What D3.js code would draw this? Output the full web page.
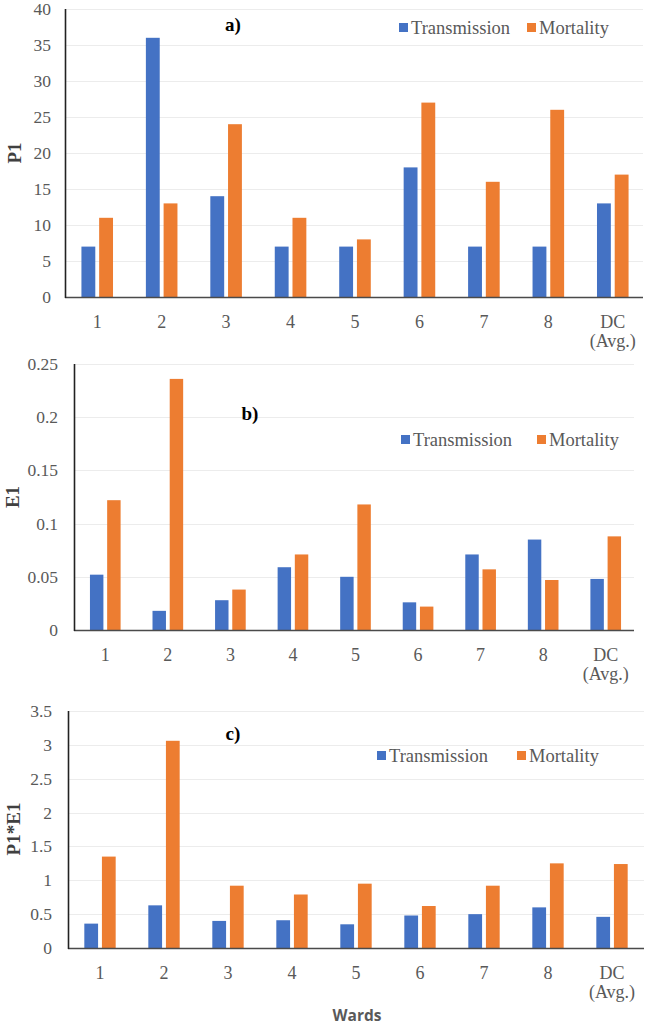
<!DOCTYPE html>
<html>
<head>
<meta charset="utf-8">
<script src="https://cdn.jsdelivr.net/npm/d3@7"></script>
<style>
  html, body { margin: 0; padding: 0; background: #fff; }
  svg { display: block; }
</style>
</head>
<body>
<svg id="chart" width="645" height="1029"></svg>
<script>
// ---- data ----
const categories = ["1", "2", "3", "4", "5", "6", "7", "8", "DC\n(Avg.)"];
const seriesNames = ["Transmission", "Mortality"];

const p1Transmission = [7, 36, 14, 7, 7, 18, 7, 7, 13];
const p1Mortality    = [11, 13, 24, 11, 8, 27, 16, 26, 17];

const e1Transmission = [0.052, 0.018, 0.028, 0.059, 0.050, 0.026, 0.071, 0.085, 0.048];
const e1Mortality    = [0.122, 0.236, 0.038, 0.071, 0.118, 0.022, 0.057, 0.047, 0.088];

const p1e1Transmission = [0.36, 0.63, 0.40, 0.41, 0.35, 0.48, 0.50, 0.60, 0.46];
const p1e1Mortality    = [1.35, 3.06, 0.92, 0.79, 0.95, 0.62, 0.92, 1.25, 1.24];

const ticksA = [0, 5, 10, 15, 20, 25, 30, 35, 40];
const ticksB = [0, 0.05, 0.1, 0.15, 0.2, 0.25];
const ticksC = [0, 0.5, 1, 1.5, 2, 2.5, 3, 3.5];

const panelLabels = ["a)", "b)", "c)"];
const yTitles = ["P1", "E1", "P1*E1"];
const xTitle = "Wards";

// ---- styling / layout ----
const colors = ["#4472C4", "#ED7D31"];
const serif = "'Liberation Serif', 'Times New Roman', serif";
const tickColor = "#595959";

const svg = d3.select("#chart");

const panels = [
  { t: [p1Transmission, p1Mortality], ticks: ticksA, max: 40,
    x0: 65, x1: 645, axisEnd: 643, yTop: 9, yZero: 297, tickRight: 51,
    label: panelLabels[0], labelX: 233, labelY: 31,
    title: yTitles[0], titleX: 14, titleY: 153,
    legX: 399, legY: 28, legGap: 128 },
  { t: [e1Transmission, e1Mortality], ticks: ticksB, max: 0.25,
    x0: 74, x1: 637, axisEnd: 634, yTop: 364, yZero: 630, tickRight: 58,
    label: panelLabels[1], labelX: 250, labelY: 420,
    title: yTitles[1], titleX: 12, titleY: 497,
    legX: 401, legY: 440, legGap: 136 },
  { t: [p1e1Transmission, p1e1Mortality], ticks: ticksC, max: 3.5,
    x0: 68, x1: 644, axisEnd: 644, yTop: 711, yZero: 948, tickRight: 52,
    label: panelLabels[2], labelX: 233, labelY: 740,
    title: yTitles[2], titleX: 13, titleY: 829,
    legX: 377, legY: 756, legGap: 140 }
];

panels.forEach(p => {
  const g = svg.append("g");
  const x = d3.scaleBand().domain(categories).range([p.x0, p.x1]);
  const y = d3.scaleLinear().domain([0, p.max]).range([p.yZero, p.yTop]);
  const bw = x.bandwidth();
  const barW = bw * 0.215;
  const gap = bw * 0.06;
  const xs = d3.scaleOrdinal().domain(seriesNames)
    .range([bw / 2 - gap / 2 - barW, bw / 2 + gap / 2]);

  // gridlines
  g.append("g").selectAll("line").data(p.ticks.slice(1)).join("line")
    .attr("x1", p.x0 + 1).attr("x2", p.axisEnd)
    .attr("y1", d => Math.round(y(d)) + 0.5).attr("y2", d => Math.round(y(d)) + 0.5)
    .attr("stroke", "#ececec").attr("stroke-width", 1);

  // y tick labels
  g.append("g").selectAll("text").data(p.ticks).join("text")
    .attr("x", p.tickRight).attr("y", d => y(d))
    .attr("dy", "0.34em")
    .attr("text-anchor", "end")
    .attr("font-family", serif).attr("font-size", 17.5)
    .attr("fill", tickColor)
    .text(d => d3.format("~g")(d));

  // bars
  seriesNames.forEach((s, si) => {
    g.append("g").selectAll("rect").data(p.t[si]).join("rect")
      .attr("x", (d, i) => x(categories[i]) + xs(s))
      .attr("width", barW)
      .attr("y", d => y(d))
      .attr("height", d => y(0) - y(d))
      .attr("fill", colors[si]);
  });

  // axes lines
  g.append("line")
    .attr("x1", p.x0).attr("x2", p.axisEnd)
    .attr("y1", p.yZero + 0.5).attr("y2", p.yZero + 0.5)
    .attr("stroke", "#4a4a4a").attr("stroke-width", 1.6);
  g.append("line")
    .attr("x1", p.x0 + 0.5).attr("x2", p.x0 + 0.5)
    .attr("y1", p.yTop).attr("y2", p.yZero + 1)
    .attr("stroke", "#222").attr("stroke-width", 1.6);

  // x tick labels
  const xl = g.append("g").selectAll("text").data(categories).join("text")
    .attr("text-anchor", "middle")
    .attr("font-family", serif).attr("font-size", 18)
    .attr("fill", tickColor)
    .attr("transform", d => `translate(${x(d) + bw / 2},${p.yZero + 31})`);
  xl.each(function(d) {
    const lines = d.split("\n");
    d3.select(this).selectAll("tspan").data(lines).join("tspan")
      .attr("x", 0).attr("dy", (l, i) => i === 0 ? 0 : 19).text(l => l);
  });

  // panel label
  g.append("text")
    .attr("x", p.labelX).attr("y", p.labelY)
    .attr("text-anchor", "middle")
    .attr("font-family", serif).attr("font-size", 19).attr("font-weight", "bold")
    .attr("fill", "#000").text(p.label);

  // y title
  g.append("text")
    .attr("transform", `translate(${p.titleX},${p.titleY}) rotate(-90)`)
    .attr("text-anchor", "middle").attr("dy", "0.35em")
    .attr("font-family", serif).attr("font-size", 19).attr("font-weight", "bold")
    .attr("fill", "#404040").text(p.title);

  // legend
  const leg = g.append("g");
  seriesNames.forEach((s, si) => {
    const lx = p.legX + si * p.legGap;
    leg.append("rect")
      .attr("x", lx).attr("y", p.legY - 5).attr("width", 9).attr("height", 9)
      .attr("fill", colors[si]);
    leg.append("text")
      .attr("x", lx + 12).attr("y", p.legY).attr("dy", "0.35em")
      .attr("font-family", serif).attr("font-size", 18.5)
      .attr("fill", tickColor).text(s);
  });
});

// x-axis title
svg.append("text")
  .attr("x", 357).attr("y", 1021)
  .attr("text-anchor", "middle")
  .attr("font-family", "'Open Sans', 'Liberation Sans', sans-serif")
  .attr("font-size", 15.5).attr("font-weight", "bold")
  .attr("fill", "#595959").text(xTitle);
</script>
</body>
</html>
